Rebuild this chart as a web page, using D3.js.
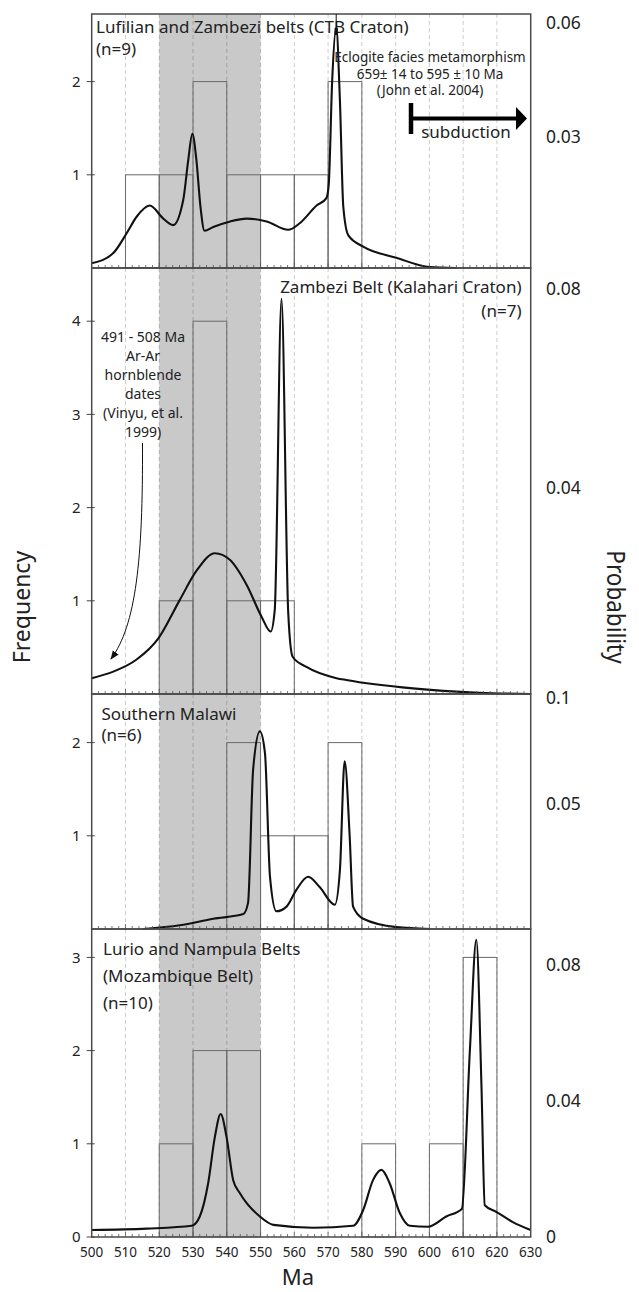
<!DOCTYPE html>
<html>
<head>
<meta charset="utf-8">
<script src="https://cdn.jsdelivr.net/npm/d3@7"></script>
<style>
  body { margin: 0; background: #fff; }
  text { font-family: "Noto Sans", sans-serif; fill: #222; }
</style>
</head>
<body>
<svg id="chart" width="639" height="1292"></svg>
<script>
// Age axis (Ma)
const maTicks = [500, 510, 520, 530, 540, 550, 560, 570, 580, 590, 600, 610, 620, 630];
const gridMa = [510, 520, 530, 540, 550, 560, 570, 580, 590, 600, 610, 620];
const bandMa = [520, 550];

// Histogram bins: [bin start (Ma), count]
const lufilianBins = [[510, 1], [520, 1], [530, 2], [540, 1], [550, 1], [560, 1], [570, 2]];
const zambeziBins = [[520, 1], [530, 4], [540, 1], [550, 1]];
const malawiBins = [[540, 2], [550, 1], [560, 1], [570, 2]];
const lurioBins = [[520, 1], [530, 2], [540, 2], [580, 1], [600, 1], [610, 3]];

// Probability curves, read against the frequency axis: [Ma, height]
const lufilianCurve = [[500, 0.05], [506.4, 0.16], [510.3, 0.37], [513.3, 0.55], [517.2, 0.67], [521.2, 0.53],
  [524.1, 0.46], [527.1, 0.73], [528.6, 1.16], [529.8, 1.44], [531, 1.16], [532.2, 0.66], [533.4, 0.4],
  [536, 0.44], [541, 0.5], [545.9, 0.53], [551.8, 0.5], [558.2, 0.41], [561.6, 0.48], [566.6, 0.67],
  [569.5, 0.75], [570.2, 0.9], [571.2, 2.0], [572.4, 2.58], [573.5, 1.8], [574.5, 0.66], [576, 0.35],
  [580.4, 0.23], [590.2, 0.11], [600.1, 0.01], [608, 0]];
const zambeziCurve = [[500, 0.17], [506.4, 0.24], [513.3, 0.37], [519.8, 0.6], [526.1, 1.01], [531, 1.32],
  [536.5, 1.51], [540.9, 1.44], [545.9, 1.17], [550.3, 0.83], [553, 0.67], [554.2, 0.9], [556.2, 4.24],
  [558.2, 0.87], [559.5, 0.4], [563.6, 0.29], [572.5, 0.17], [575.4, 0.15], [595.1, 0.06], [614.9, 0.014], [630, 0]];
const malawiCurve = [[515.3, 0], [526.1, 0.04], [536, 0.11], [544.9, 0.16], [546.3, 0.28], [547.8, 1.71],
  [549.8, 2.12], [551.3, 1.89], [552.8, 0.56], [554.7, 0.19], [557.7, 0.24], [560.6, 0.42], [564.1, 0.56],
  [567.5, 0.45], [572, 0.26], [573.5, 0.63], [574.9, 1.8], [576.4, 0.99], [577.4, 0.24], [580.4, 0.11],
  [590.2, 0.02], [600.1, 0]];
const lurioCurve = [[500, 0.075], [516.3, 0.09], [529.6, 0.12], [532, 0.22], [534.5, 0.58], [536.5, 1.08],
  [538.2, 1.32], [539.9, 1.08], [541.9, 0.61], [543.9, 0.47], [549.8, 0.22], [553.8, 0.13], [565.6, 0.1],
  [577.4, 0.12], [580.4, 0.29], [583.3, 0.61], [585.8, 0.72], [588.2, 0.58], [591.2, 0.26], [594.2, 0.12],
  [599.6, 0.11], [605, 0.22], [609.6, 0.3], [612, 2.01], [613.9, 3.19], [615.4, 1.65], [616.4, 0.34],
  [619.8, 0.27], [624.7, 0.16], [630, 0.075]];

// Axis labels per panel
const lufilianFreqTicks = [1, 2];
const zambeziFreqTicks = [1, 2, 3, 4];
const malawiFreqTicks = [1, 2];
const lurioFreqTicks = [0, 1, 2, 3];
const lufilianProbTicks = [0.06, 0.03];
const zambeziProbTicks = [0.08, 0.04];
const malawiProbTicks = [0.1, 0.05];
const lurioProbTicks = [0.08, 0.04, 0];

// Layout
const X_LEFT = 91.7, X_RIGHT = 530.7;
const PANEL_EDGES = [14, 268, 694, 929, 1237];
const PX_PER_COUNT = 93.2;

const panels = [
  {bins: lufilianBins, curve: lufilianCurve, freqTicks: lufilianFreqTicks, probTicks: lufilianProbTicks, probDomain: [-0.0046, 0.0623]},
  {bins: zambeziBins, curve: zambeziCurve, freqTicks: zambeziFreqTicks, probTicks: zambeziProbTicks, probDomain: [-0.0012, 0.0841]},
  {bins: malawiBins, curve: malawiCurve, freqTicks: malawiFreqTicks, probTicks: malawiProbTicks, probDomain: [-0.0091, 0.102]},
  {bins: lurioBins, curve: lurioCurve, freqTicks: lurioFreqTicks, probTicks: lurioProbTicks, probDomain: [0, 0.0906]}
];

const svg = d3.select("#chart");
const x = d3.scaleLinear().domain([500, 630]).range([X_LEFT, X_RIGHT]);

// grey shaded interval behind all panels
svg.append("rect")
  .attr("x", x(bandMa[0]))
  .attr("y", PANEL_EDGES[0])
  .attr("width", x(bandMa[1]) - x(bandMa[0]))
  .attr("height", PANEL_EDGES[4] - PANEL_EDGES[0])
  .attr("fill", "#c9c9c9");

panels.forEach(function(p, i) {
  let top = PANEL_EDGES[i], bottom = PANEL_EDGES[i + 1];
  let y = d3.scaleLinear().domain([0, (bottom - top) / PX_PER_COUNT]).range([bottom, top]);
  let yProb = d3.scaleLinear().domain(p.probDomain).range([bottom, top]);
  let g = svg.append("g");

  // dashed grid every 10 Ma
  g.selectAll(".grid").data(gridMa).enter().append("line")
    .attr("x1", d => x(d)).attr("x2", d => x(d))
    .attr("y1", top).attr("y2", bottom)
    .attr("stroke", "#000").attr("stroke-opacity", 0.2)
    .attr("stroke-width", 1).attr("stroke-dasharray", "4,3");

  // histogram
  g.selectAll(".bar").data(p.bins).enter().append("rect")
    .attr("x", d => x(d[0]))
    .attr("y", d => y(d[1]))
    .attr("width", d => x(d[0] + 10) - x(d[0]))
    .attr("height", d => bottom - y(d[1]))
    .attr("fill", "none").attr("stroke", "#6a6a6a").attr("stroke-width", 1);

  // probability curve
  let line = d3.line().x(d => x(d[0])).y(d => y(d[1])).curve(d3.curveMonotoneX);
  g.append("path").datum(p.curve)
    .attr("d", line)
    .attr("fill", "none").attr("stroke", "#111").attr("stroke-width", 2.1)
    .attr("stroke-linejoin", "round");

  // minor ticks along the bottom
  g.selectAll(".minor").data(d3.range(502, 630, 2)).enter().append("line")
    .attr("x1", d => x(d)).attr("x2", d => x(d))
    .attr("y1", bottom).attr("y2", d => bottom - (d % 10 === 0 ? 5 : 3))
    .attr("stroke", "#555").attr("stroke-width", 0.8);

  // frame
  g.append("rect")
    .attr("x", X_LEFT).attr("y", top)
    .attr("width", X_RIGHT - X_LEFT).attr("height", bottom - top)
    .attr("fill", "none").attr("stroke", "#4a4a4a").attr("stroke-width", 1.5);

  // frequency ticks and labels
  g.selectAll(".ftick").data(p.freqTicks).enter().append("line")
    .attr("x1", X_LEFT - 5).attr("x2", X_LEFT + 3)
    .attr("y1", d => y(d)).attr("y2", d => y(d))
    .attr("stroke", "#444").attr("stroke-width", 1);
  g.selectAll(".flabel").data(p.freqTicks).enter().append("text")
    .attr("x", X_LEFT - 11).attr("y", d => y(d))
    .attr("dy", "0.35em").attr("text-anchor", "end")
    .style("font-size", "15px")
    .text(d => d);

  // probability labels on the right
  g.selectAll(".plabel").data(p.probTicks).enter().append("text")
    .attr("x", 546).attr("y", d => yProb(d))
    .attr("dy", "0.35em")
    .style("font-size", "17.5px")
    .text(d => String(d));
});

// x axis labels
let bottomY = PANEL_EDGES[4];
svg.selectAll(".xlabel").data(maTicks).enter().append("text")
  .attr("x", d => x(d)).attr("y", bottomY + 20)
  .attr("text-anchor", "middle")
  .style("font-size", "13.5px")
  .text(d => d);
svg.append("text")
  .attr("x", 298).attr("y", 1285)
  .attr("text-anchor", "middle")
  .style("font-size", "22px")
  .text("Ma");

// axis titles
svg.append("text")
  .attr("transform", "translate(30, 607) rotate(-90)")
  .attr("text-anchor", "middle")
  .style("font-size", "23px")
  .text("Frequency");
svg.append("text")
  .attr("transform", "translate(607, 607) rotate(90) scale(0.9, 1)")
  .attr("text-anchor", "middle")
  .style("font-size", "25px")
  .text("Probability");

// panel titles
function addLines(lines, px, py, step, size, anchor) {
  lines.forEach(function(t, k) {
    svg.append("text")
      .attr("x", px).attr("y", py + k * step)
      .attr("text-anchor", anchor || "start")
      .style("font-size", size + "px")
      .text(t);
  });
}
addLines(["Lufilian and Zambezi belts (CTB Craton)", "(n=9)"], 96, 33, 21.5, 17);
addLines(["Zambezi Belt (Kalahari Craton)", "(n=7)"], 521.5, 292.5, 24, 17, "end");
addLines(["Southern Malawi", "(n=6)"], 101.5, 719.5, 21.5, 17);
addLines(["Lurio and Nampula Belts", "(Mozambique Belt)", "(n=10)"], 103, 955, 27, 17);

// eclogite annotation
addLines(["Eclogite facies metamorphism", "659\u00b1 14 to 595 \u00b1 10 Ma", "(John et al. 2004)"], 430, 62, 16.5, 13.5, "middle");
svg.append("line")
  .attr("x1", x(572.4)).attr("x2", x(572.4))
  .attr("y1", PANEL_EDGES[0]).attr("y2", 34)
  .attr("stroke", "#111").attr("stroke-width", 1);
svg.append("rect")
  .attr("x", x(572.4) - 1.6).attr("y", 28).attr("width", 3.2).attr("height", 7)
  .attr("fill", "#111");

// subduction arrow
svg.append("line")
  .attr("x1", 411).attr("x2", 411).attr("y1", 103).attr("y2", 134)
  .attr("stroke", "#000").attr("stroke-width", 4.5);
svg.append("line")
  .attr("x1", 411).attr("x2", 518).attr("y1", 118.5).attr("y2", 118.5)
  .attr("stroke", "#000").attr("stroke-width", 4);
svg.append("path")
  .attr("d", "M516,107 L527,118.5 L516,130 Z")
  .attr("fill", "#000");
svg.append("text")
  .attr("x", 466).attr("y", 138)
  .attr("text-anchor", "middle")
  .style("font-size", "17px")
  .text("subduction");

// Ar-Ar annotation with curved arrow
addLines(["491 - 508 Ma", "Ar-Ar", "hornblende", "dates", "(Vinyu, et al.", "1999)"], 143, 342, 19, 14, "middle");
svg.append("defs").append("marker")
  .attr("id", "head").attr("viewBox", "0 0 10 10")
  .attr("refX", 9).attr("refY", 5)
  .attr("markerWidth", 9).attr("markerHeight", 9)
  .attr("orient", "auto")
  .append("path").attr("d", "M0,1 L10,5 L0,9 Z").attr("fill", "#111");
svg.append("path")
  .attr("d", "M142.5,443 C143,560 136,625 111,659")
  .attr("fill", "none").attr("stroke", "#111").attr("stroke-width", 1)
  .attr("marker-end", "url(#head)");
</script>
</body>
</html>
